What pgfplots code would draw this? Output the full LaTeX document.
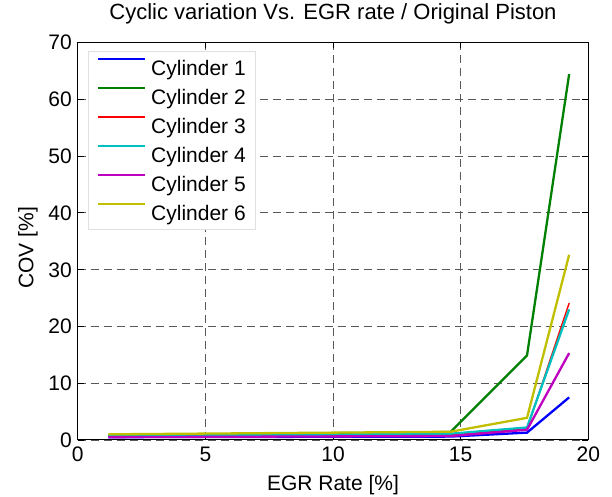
\documentclass[border=0pt]{standalone}
\usepackage{fontspec}
\setmainfont{Liberation Sans}
\usepackage{pgfplots}
\pgfplotsset{compat=1.18}
\definecolor{mblue}{rgb}{0,0,1}
\definecolor{mgreen}{rgb}{0,0.5,0}
\definecolor{mred}{rgb}{1,0,0}
\definecolor{mcyan}{rgb}{0,0.75,0.75}
\definecolor{mmagenta}{rgb}{0.75,0,0.75}
\definecolor{myellow}{rgb}{0.75,0.75,0}
\begin{document}
\begin{tikzpicture}
\path (-77.7pt,-57pt) rectangle (534.3pt,440pt);
\begin{axis}[
  at={(0pt,0pt)}, anchor=south west,
  scale only axis, width=510.6pt, height=397.7pt,
  xmin=0, xmax=20, ymin=0, ymax=70,
  xtick={0,5,10,15,20}, ytick={0,10,20,30,40,50,60,70},
  font=\fontsize{21}{25}\selectfont,
  /pgf/number format/assume math mode=true,
  tick align=inside, tick pos=both, major tick length=6pt,
  tick style={black, line width=0.7pt},
  axis line style={line width=1pt},
  grid=major,
  major grid style={black!65, line width=0.7pt, dash pattern=on 8pt off 5pt},
  xticklabel style={anchor=north, inner sep=0pt, text height=15pt, text depth=0pt, yshift=-6.7pt},
  yticklabel style={anchor=east, inner sep=0pt, text height=15pt, text depth=0pt, xshift=-5.7pt},
  title={Cyclic variation Vs. EGR rate / Original Piston},
  title style={at={(axis description cs:0.5,1)}, anchor=base, yshift=17.3pt, inner sep=0pt, font=\fontsize{22}{26}\selectfont},
  xlabel={EGR Rate [\%]},
  xlabel style={at={(axis description cs:0.5,0)}, anchor=base, yshift=-50pt, inner sep=0pt},
  ylabel={COV [\%]},
  ylabel style={at={(axis description cs:-0.087,0.483)}, anchor=base, inner sep=0pt},
  legend cell align=left,
  legend style={at={(axis description cs:0.0204,0.979)}, anchor=north west,
    draw=black!12, fill=white, inner xsep=9pt, inner ysep=4.8pt, row sep=5pt,
    nodes={inner sep=0pt, text height=19.5pt, text depth=4.5pt},
    /tikz/every odd column/.append style={column sep=5pt}},
  legend image code/.code={\draw[#1] (0pt,8.5pt) -- (46.6pt,8.5pt);},
]
\addplot[mblue, line width=2.3pt] coordinates {(1.2,0.5)(14.6,0.6)(17.6,1.3)(19.25,7.5)};
\addlegendentry{Cylinder 1}
\addplot[mgreen, line width=2.3pt] coordinates {(1.2,0.8)(14.6,1.4)(17.6,14.9)(19.25,64.4)};
\addlegendentry{Cylinder 2}
\addplot[mred, line width=1.4pt] coordinates {(1.2,0.7)(14.6,0.9)(17.6,2.0)(19.25,24.1)};
\addlegendentry{Cylinder 3}
\addplot[mcyan, line width=2.3pt] coordinates {(1.2,0.7)(14.6,1.1)(17.6,2.2)(19.25,23.0)};
\addlegendentry{Cylinder 4}
\addplot[mmagenta, line width=2.3pt] coordinates {(1.2,0.5)(14.6,0.7)(17.6,1.8)(19.25,15.3)};
\addlegendentry{Cylinder 5}
\addplot[myellow, line width=2.3pt] coordinates {(1.2,1.0)(14.6,1.45)(17.6,3.9)(19.25,32.6)};
\addlegendentry{Cylinder 6}
\end{axis}
\end{tikzpicture}
\end{document}
